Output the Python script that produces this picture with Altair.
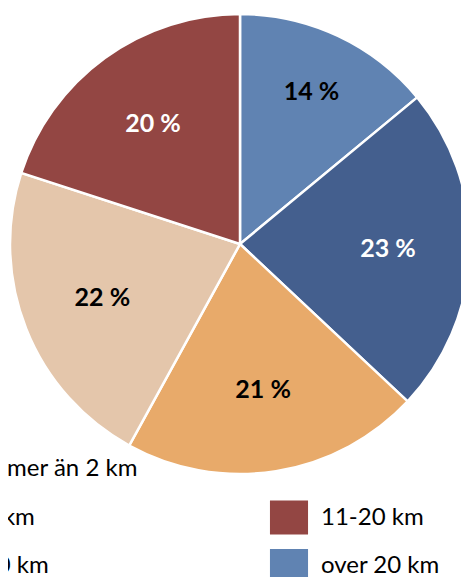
import altair as alt
import pandas as pd

# Data (clockwise from 12 o'clock)
categories = ["over 20 km", "Inte mer än 2 km", "3-5 km", "6-10 km", "11-20 km"]
shares = [14, 23, 21, 22, 20]
colors = ["#6083B2", "#445F8E", "#E8AA6A", "#E4C6AB", "#934643"]
label_colors = ["black", "white", "black", "black", "white"]

# Legend layout (as in the original, partly cut off at the left)
legend_labels = ["Inte mer än 2 km", "3-5 km", "6-10 km", "11-20 km", "over 20 km"]
legend_cols = [0, 0, 0, 1, 1]
legend_rows = [0, 1, 2, 1, 2]

df = pd.DataFrame({
    "cat": categories,
    "share": shares,
    "order": list(range(len(categories))),
    "label": [f"{v} %" for v in shares],
    "lc": label_colors,
})

leg = pd.DataFrame({
    "cat": legend_labels,
    "col": legend_cols,
    "row": legend_rows,
})

color_scale = alt.Scale(domain=categories, range=colors)

CX, CY = 232, 236

base = alt.Chart(df).encode(
    theta=alt.Theta("share:Q", stack=True),
    order=alt.Order("order:Q"),
    x=alt.value(CX),
    y=alt.value(CY),
)

pie = base.mark_arc(outerRadius=230, stroke="white", strokeWidth=2.5).encode(
    color=alt.Color("cat:N", scale=color_scale, legend=None),
)

labels = base.mark_text(font="Lato", fontSize=25, fontWeight="bold").encode(
    radius=alt.value(148),
    text=alt.condition(alt.datum.share >= 15, alt.Text("label:N"), alt.value("")),
    color=alt.Color("lc:N", scale=None),
)
labels_small = base.mark_text(font="Lato", fontSize=25, fontWeight="bold").encode(
    radius=alt.value(168),
    text=alt.condition(alt.datum.share < 15, alt.Text("label:N"), alt.value("")),
    color=alt.Color("lc:N", scale=None),
)

lx = alt.X("col:Q", scale=alt.Scale(domain=[0, 1], range=[-80, 281]), axis=None)
ly = alt.Y("row:Q", scale=alt.Scale(domain=[0, 2], range=[461, 558]), axis=None)

leg_sw = alt.Chart(leg).mark_point(
    shape="M-1.12,-1H1.12V1H-1.12Z", filled=True, size=34 * 34, opacity=1, strokeWidth=0
).encode(
    x=lx, y=ly,
    color=alt.Color("cat:N", scale=color_scale, legend=None),
)

leg_tx = alt.Chart(leg).mark_text(
    font="Lato", fontSize=24, align="left", baseline="middle", dx=32, color="black"
).encode(
    x=lx, y=ly, text="cat:N",
)

chart = alt.layer(pie, labels, labels_small, leg_sw, leg_tx).properties(
    width=453,
    height=472,
    padding={"left": 0, "top": 0, "right": 0, "bottom": 97},
    autosize=alt.AutoSizeParams(type="none"),
).configure_view(stroke=None)

chart.save("out.html", embed_options={"renderer": "svg", "actions": False})
